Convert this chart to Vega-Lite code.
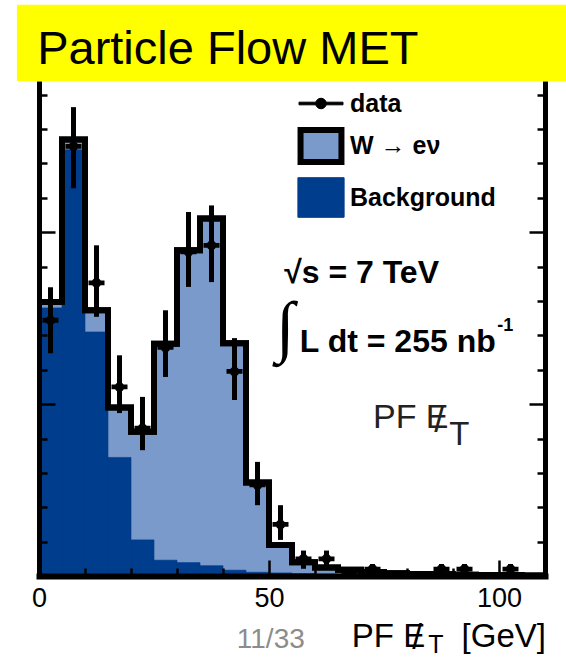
{
  "$schema": "https://vega.github.io/schema/vega-lite/v6.json",
  "width": 506,
  "height": 495,
  "autosize": {"type": "none"},
  "padding": {"left": 39, "top": 81, "right": 21, "bottom": 82},
  "background": "white",
  "config": {"view": {"stroke": null}},
  "data": {"values": [
    {"lo": 0, "hi": 5, "c": 2.5, "total": 79.7, "bkg": 78, "n": 74.4, "nlo": 64.8, "nhi": 84},
    {"lo": 5, "hi": 10, "c": 7.5, "total": 127, "bkg": 124, "n": 125, "nlo": 112.8, "nhi": 136.4},
    {"lo": 10, "hi": 15, "c": 12.5, "total": 77.3, "bkg": 71, "n": 85.3, "nlo": 75.4, "nhi": 96.2},
    {"lo": 15, "hi": 20, "c": 17.5, "total": 49, "bkg": 34.5, "n": 55, "nlo": 47.4, "nhi": 64.2},
    {"lo": 20, "hi": 25, "c": 22.5, "total": 42, "bkg": 10.5, "n": 43, "nlo": 36.6, "nhi": 52.1},
    {"lo": 25, "hi": 30, "c": 27.5, "total": 67.6, "bkg": 4.6, "n": 66.5, "nlo": 57.9, "nhi": 77.3},
    {"lo": 30, "hi": 35, "c": 32.5, "total": 94.8, "bkg": 3.9, "n": 94.3, "nlo": 84.1, "nhi": 105.9},
    {"lo": 35, "hi": 40, "c": 37.5, "total": 104, "bkg": 3.0, "n": 96.2, "nlo": 85.5, "nhi": 107.8},
    {"lo": 40, "hi": 45, "c": 42.5, "total": 67.7, "bkg": 1.7, "n": 59.5, "nlo": 51.2, "nhi": 69.2},
    {"lo": 45, "hi": 50, "c": 47.5, "total": 27.2, "bkg": 1.1, "n": 26.5, "nlo": 20.6, "nhi": 33.2},
    {"lo": 50, "hi": 55, "c": 52.5, "total": 9, "bkg": 0.9, "n": 15, "nlo": 10.5, "nhi": 20.6},
    {"lo": 55, "hi": 60, "c": 57.5, "total": 4, "bkg": 0.7, "n": 5, "nlo": 2.1, "nhi": 7.4},
    {"lo": 60, "hi": 65, "c": 62.5, "total": 2.5, "bkg": 0.5, "n": 5, "nlo": 2.1, "nhi": 7.4},
    {"lo": 65, "hi": 70, "c": 67.5, "total": 1.8, "bkg": 0.4, "n": 1, "nlo": 0, "nhi": 2.4},
    {"lo": 70, "hi": 75, "c": 72.5, "total": 1.2, "bkg": 0.3, "n": 2, "nlo": 0.6, "nhi": 3.5},
    {"lo": 75, "hi": 80, "c": 77.5, "total": 0.8, "bkg": 0.2, "n": null, "nlo": null, "nhi": null},
    {"lo": 80, "hi": 85, "c": 82.5, "total": 0.6, "bkg": 0.2, "n": null, "nlo": null, "nhi": null},
    {"lo": 85, "hi": 90, "c": 87.5, "total": 0.5, "bkg": 0.1, "n": 2, "nlo": 0.6, "nhi": 3.5},
    {"lo": 90, "hi": 95, "c": 92.5, "total": 0.4, "bkg": 0.1, "n": 2, "nlo": 0.6, "nhi": 3.5},
    {"lo": 95, "hi": 100, "c": 97.5, "total": 0.3, "bkg": 0.1, "n": null, "nlo": null, "nhi": null},
    {"lo": 100, "hi": 105, "c": 102.5, "total": 0.3, "bkg": 0.1, "n": 2, "nlo": 0.6, "nhi": 3.5},
    {"lo": 105, "hi": 110, "c": 107.5, "total": 0.2, "bkg": 0.1, "n": null, "nlo": null, "nhi": null}
  ]},
  "resolve": {"axis": {"x": "independent", "y": "independent"}},
  "layer": [
    {
      "mark": {"type": "rect", "fill": "#7A9ACB", "stroke": "#7A9ACB", "strokeWidth": 0.6},
      "encoding": {
        "x": {"field": "lo", "type": "quantitative",
          "scale": {"domain": [0, 110], "nice": false, "zero": false},
          "axis": {"orient": "bottom", "values": [0, 50, 100], "tickSize": -16,
            "tickWidth": 2.5, "tickColor": "black", "domainWidth": 6, "domainColor": "black", "domainCap": "square",
            "labelFont": "Liberation Sans", "labelFontSize": 27, "labelColor": "black", "labelPadding": 25,
            "labelFlush": false, "labelOverlap": false, "title": null, "grid": false, "zindex": 1}},
        "x2": {"field": "hi"},
        "y": {"field": "total", "type": "quantitative",
          "scale": {"domain": [0, 144], "nice": false},
          "axis": {"orient": "left", "values": [0, 50, 100],
            "labels": false, "title": null, "grid": false, "tickSize": -16,
            "tickWidth": 2.5, "tickColor": "black", "domainWidth": 5, "domainColor": "black", "zindex": 1}},
        "y2": {"datum": 0}
      }
    },
    {
      "mark": {"type": "rect", "fill": "#003D8C", "stroke": "#003D8C", "strokeWidth": 0.6},
      "encoding": {
        "x": {"field": "lo", "type": "quantitative",
          "axis": {"orient": "bottom", "values": [10, 20, 30, 40, 60, 70, 80, 90, 110], "tickSize": -8,
            "tickWidth": 2.5, "tickColor": "black", "domain": false, "labels": false, "title": null, "grid": false, "zindex": 1}},
        "x2": {"field": "hi"},
        "y": {"field": "bkg", "type": "quantitative",
          "axis": {"orient": "left", "values": [10, 20, 30, 40, 60, 70, 80, 90, 110, 120, 130, 140],
            "labels": false, "title": null, "grid": false, "tickSize": -8, "domain": false,
            "tickWidth": 2.5, "tickColor": "black", "zindex": 1}},
        "y2": {"datum": 0}
      }
    },
    {
      "mark": {"type": "line", "interpolate": "step-after", "color": "black", "strokeWidth": 6},
      "encoding": {
        "x": {"field": "lo", "type": "quantitative", "axis": null},
        "y": {"field": "total", "type": "quantitative",
          "axis": {"orient": "right", "values": [0, 50, 100],
            "labels": false, "title": null, "grid": false, "tickSize": -16,
            "tickWidth": 2.5, "tickColor": "black", "domainWidth": 5, "domainColor": "black", "zindex": 1}}
      }
    },
    {
      "mark": {"type": "line", "interpolate": "step-before", "color": "black", "strokeWidth": 6},
      "encoding": {
        "x": {"field": "hi", "type": "quantitative", "axis": null},
        "y": {"field": "total", "type": "quantitative",
          "axis": {"orient": "right", "values": [10, 20, 30, 40, 60, 70, 80, 90, 110, 120, 130, 140],
            "labels": false, "title": null, "grid": false, "tickSize": -8, "domain": false,
            "tickWidth": 2.5, "tickColor": "black", "zindex": 1}}
      }
    },
    {
      "transform": [{"filter": "isValid(datum.n)"}],
      "mark": {"type": "rule", "color": "black", "strokeWidth": 5},
      "encoding": {
        "x": {"field": "c", "type": "quantitative", "axis": null},
        "y": {"field": "nlo", "type": "quantitative", "axis": null},
        "y2": {"field": "nhi"}
      }
    },
    {
      "transform": [{"filter": "isValid(datum.n)"}],
      "mark": {"type": "point", "shape": "M-1,-0.3H1V0.3H-1Z M-0.6,0A0.6,0.6 0 1,1 0.6,0A0.6,0.6 0 1,1 -0.6,0Z", "size": 256, "filled": true, "fill": "black", "opacity": 1, "strokeWidth": 0},
      "encoding": {
        "x": {"field": "c", "type": "quantitative", "axis": null},
        "y": {"field": "n", "type": "quantitative", "axis": null}
      }
    },
    {
      "transform": [{"filter": "false"}],
      "mark": {"type": "point", "filled": true, "opacity": 1},
      "encoding": {
        "fill": {"field": "proc", "type": "nominal",
          "scale": {"domain": ["data", "W → eν", "Background"], "range": ["#000000", "#7A9ACB", "#003D8C"]},
          "legend": {"orient": "none", "legendX": 257, "legendY": 0, "title": null, "symbolSize": 1936, "labelFont": "Liberation Sans", "labelFontSize": 25, "labelFontWeight": "bold", "labelColor": "black", "labelOffset": 4, "rowPadding": 0, "padding": 0, "labelLimit": 0, "symbolOpacity": 1, "direction": "vertical"}},
        "stroke": {"field": "proc", "type": "nominal",
          "scale": {"domain": ["data", "W → eν", "Background"], "range": ["#000000", "#000000", "#003D8C"]},
          "legend": {"orient": "none", "legendX": 257, "legendY": 0, "title": null, "symbolSize": 1936, "labelFont": "Liberation Sans", "labelFontSize": 25, "labelFontWeight": "bold", "labelColor": "black", "labelOffset": 4, "rowPadding": 0, "padding": 0, "labelLimit": 0, "symbolOpacity": 1, "direction": "vertical"}},
        "shape": {"field": "proc", "type": "nominal",
          "scale": {"domain": ["data", "W → eν", "Background"], "range": ["M-1,-0.06H1V0.06H-1Z M-0.24,0A0.24,0.24 0 1,1 0.24,0A0.24,0.24 0 1,1 -0.24,0Z", "M-0.93,-0.73H0.93V0.73H-0.93Z", "M-1.05,-0.9H1.05V0.9H-1.05Z"]},
          "legend": {"orient": "none", "legendX": 257, "legendY": 0, "title": null, "symbolSize": 1936, "labelFont": "Liberation Sans", "labelFontSize": 25, "labelFontWeight": "bold", "labelColor": "black", "labelOffset": 4, "rowPadding": 0, "padding": 0, "labelLimit": 0, "symbolOpacity": 1, "direction": "vertical"}},
        "strokeWidth": {"field": "proc", "type": "nominal",
          "scale": {"type": "ordinal", "domain": ["data", "W → eν", "Background"], "range": [1, 6, 1]},
          "legend": {"orient": "none", "legendX": 257, "legendY": 0, "title": null, "symbolSize": 1936, "labelFont": "Liberation Sans", "labelFontSize": 25, "labelFontWeight": "bold", "labelColor": "black", "labelOffset": 4, "rowPadding": 0, "padding": 0, "labelLimit": 0, "symbolOpacity": 1, "direction": "vertical"}}
      }
    },
    {
      "data": {"values": [{}]},
      "mark": {"type": "text", "text": "√s = 7 TeV", "font": "Liberation Sans", "fontWeight": "bold", "fontSize": 32, "align": "left", "baseline": "alphabetic", "color": "black"},
      "encoding": {"x": {"datum": 53.3, "type": "quantitative", "axis": null}, "y": {"datum": 85.2, "type": "quantitative", "axis": null}}
    },
    {
      "data": {"values": [{}]},
      "mark": {"type": "text", "text": "∫", "font": "Liberation Serif", "fontSize": 68, "align": "center", "baseline": "middle", "color": "black"},
      "encoding": {"x": {"datum": 53.5, "type": "quantitative", "axis": null}, "y": {"datum": 71.8, "type": "quantitative", "axis": null}}
    },
    {
      "data": {"values": [{}]},
      "mark": {"type": "text", "text": "L dt = 255 nb", "font": "Liberation Sans", "fontWeight": "bold", "fontSize": 32, "align": "left", "baseline": "alphabetic", "color": "black"},
      "encoding": {"x": {"datum": 56.7, "type": "quantitative", "axis": null}, "y": {"datum": 65.2, "type": "quantitative", "axis": null}}
    },
    {
      "data": {"values": [{}]},
      "mark": {"type": "text", "text": "-1", "font": "Liberation Sans", "fontWeight": "bold", "fontSize": 18, "align": "left", "baseline": "alphabetic", "color": "black"},
      "encoding": {"x": {"datum": 99.6, "type": "quantitative", "axis": null}, "y": {"datum": 71.2, "type": "quantitative", "axis": null}}
    },
    {
      "data": {"values": [{}]},
      "mark": {"type": "text", "text": "PF E", "font": "Liberation Sans", "fontSize": 34, "align": "left", "baseline": "alphabetic", "color": "#222222"},
      "encoding": {"x": {"datum": 72.6, "type": "quantitative", "axis": null}, "y": {"datum": 43.0, "type": "quantitative", "axis": null}}
    },
    {
      "data": {"values": [{}]},
      "mark": {"type": "text", "text": "/", "font": "Liberation Sans", "fontSize": 36, "align": "center", "baseline": "alphabetic", "color": "#222222"},
      "encoding": {"x": {"datum": 87.0, "type": "quantitative", "axis": null}, "y": {"datum": 42.0, "type": "quantitative", "axis": null}}
    },
    {
      "data": {"values": [{}]},
      "mark": {"type": "text", "text": "T", "font": "Liberation Sans", "fontSize": 33, "align": "left", "baseline": "alphabetic", "color": "#222222"},
      "encoding": {"x": {"datum": 89.2, "type": "quantitative", "axis": null}, "y": {"datum": 38.1, "type": "quantitative", "axis": null}}
    },
    {
      "data": {"values": [{}]},
      "mark": {"type": "text", "text": "PF E", "font": "Liberation Sans", "fontSize": 33, "align": "left", "baseline": "alphabetic", "color": "black"},
      "encoding": {"x": {"datum": 68.0, "type": "quantitative", "axis": null}, "y": {"datum": -20.6, "type": "quantitative", "axis": null}}
    },
    {
      "data": {"values": [{}]},
      "mark": {"type": "text", "text": "/", "font": "Liberation Sans", "fontSize": 35, "align": "center", "baseline": "alphabetic", "color": "black"},
      "encoding": {"x": {"datum": 82.2, "type": "quantitative", "axis": null}, "y": {"datum": -21.2, "type": "quantitative", "axis": null}}
    },
    {
      "data": {"values": [{}]},
      "mark": {"type": "text", "text": "T", "font": "Liberation Sans", "fontSize": 25, "align": "left", "baseline": "alphabetic", "color": "black"},
      "encoding": {"x": {"datum": 84.6, "type": "quantitative", "axis": null}, "y": {"datum": -22.5, "type": "quantitative", "axis": null}}
    },
    {
      "data": {"values": [{}]},
      "mark": {"type": "text", "text": "[GeV]", "font": "Liberation Sans", "fontSize": 33, "align": "right", "baseline": "alphabetic", "color": "black"},
      "encoding": {"x": {"datum": 110.2, "type": "quantitative", "axis": null}, "y": {"datum": -20.6, "type": "quantitative", "axis": null}}
    },
    {
      "data": {"values": [{}]},
      "mark": {"type": "text", "text": "11/33", "font": "Liberation Sans", "fontSize": 28, "align": "left", "baseline": "alphabetic", "color": "#8C8C8C"},
      "encoding": {"x": {"datum": 43.0, "type": "quantitative", "axis": null}, "y": {"datum": -20.9, "type": "quantitative", "axis": null}}
    },
    {
      "data": {"values": [{}]},
      "mark": {"type": "rect", "fill": "#FFFF00"},
      "encoding": {
        "x": {"datum": -4.8, "type": "quantitative", "axis": null},
        "x2": {"datum": 114.6},
        "y": {"datum": 144, "type": "quantitative", "axis": null},
        "y2": {"datum": 166.2}
      }
    },
    {
      "data": {"values": [{}]},
      "mark": {"type": "text", "text": "Particle Flow MET", "font": "Liberation Sans", "fontSize": 47, "align": "left", "baseline": "alphabetic", "color": "black"},
      "encoding": {"x": {"datum": -0.4, "type": "quantitative", "axis": null}, "y": {"datum": 148.9, "type": "quantitative", "axis": null}}
    }
  ]
}
